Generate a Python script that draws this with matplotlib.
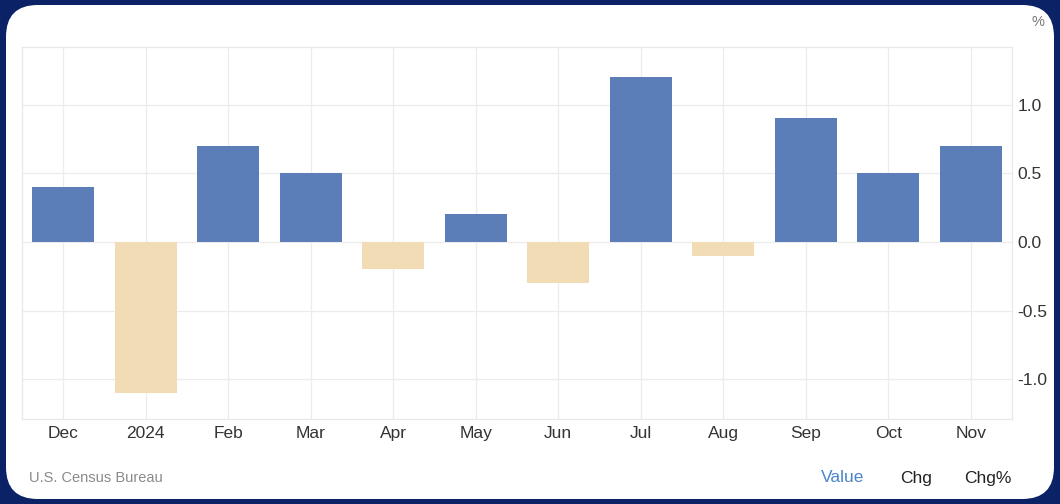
import matplotlib.pyplot as plt
from matplotlib.patches import FancyBboxPatch

plt.rcParams['font.family'] = ['Liberation Sans', 'DejaVu Sans']

months = ["Dec", "2024", "Feb", "Mar", "Apr", "May", "Jun", "Jul", "Aug", "Sep", "Oct", "Nov"]
change = [0.4, -1.1, 0.7, 0.5, -0.2, 0.2, -0.3, 1.2, -0.1, 0.9, 0.5, 0.7]
yticks = [-1.0, -0.5, 0.0, 0.5, 1.0]

W, H = 1060, 504
fig = plt.figure(figsize=(W / 100, H / 100), dpi=100)
fig.patch.set_facecolor("#0c2266")

# white rounded card, kept behind the axes
card = FancyBboxPatch((6 / W, 5 / H), 1048 / W, 494 / H,
                      boxstyle="round,pad=0,rounding_size=0.03",
                      transform=fig.transFigure, facecolor="white",
                      edgecolor="none", mutation_aspect=W / H, zorder=-5)
fig.patches.append(card)

ax = fig.add_axes([22 / W, 1 - 419 / H, 990 / W, 372 / H])
ax.set_zorder(2)
ax.set_facecolor("white")

colors = ["#5b7eb8" if v >= 0 else "#f1dcb5" for v in change]
x = range(len(months))
ax.bar(x, change, width=0.75, color=colors, zorder=3)

ax.set_xlim(-0.5, len(months) - 0.5)
ax.set_ylim(-1.29, 1.42)
ax.set_xticks(list(x))
ax.set_xticklabels(months)
ax.set_yticks(yticks)
ax.set_yticklabels([f"{v:.1f}" for v in yticks])

ax.yaxis.tick_right()
ax.grid(True, color="#ececec", lw=0.9, zorder=0)
ax.tick_params(axis="x", length=0, pad=5, labelsize=12.5, labelcolor="#333333")
ax.tick_params(axis="y", length=0, pad=4, labelsize=12.5, labelcolor="#333333")
for s in ax.spines.values():
    s.set_color("#e8e8e8")
    s.set_linewidth(0.9)

fig.text(1038 / W, 1 - 22 / H, "%", fontsize=10.5, color="#777777",
         ha="center", va="center")
fig.text(29 / W, 1 - 478 / H, "U.S. Census Bureau", fontsize=10.5,
         color="#8a8a8a", ha="left", va="center")
fig.text(843 / W, 1 - 478 / H, "Value", fontsize=12.5, color="#4a85c9",
         ha="center", va="center")
fig.text(916 / W, 1 - 478 / H, "Chg", fontsize=12.5, color="#222222",
         ha="center", va="center")
fig.text(988 / W, 1 - 478 / H, "Chg%", fontsize=12.5, color="#222222",
         ha="center", va="center")

fig.savefig("out.png", dpi=100, facecolor=fig.get_facecolor())
